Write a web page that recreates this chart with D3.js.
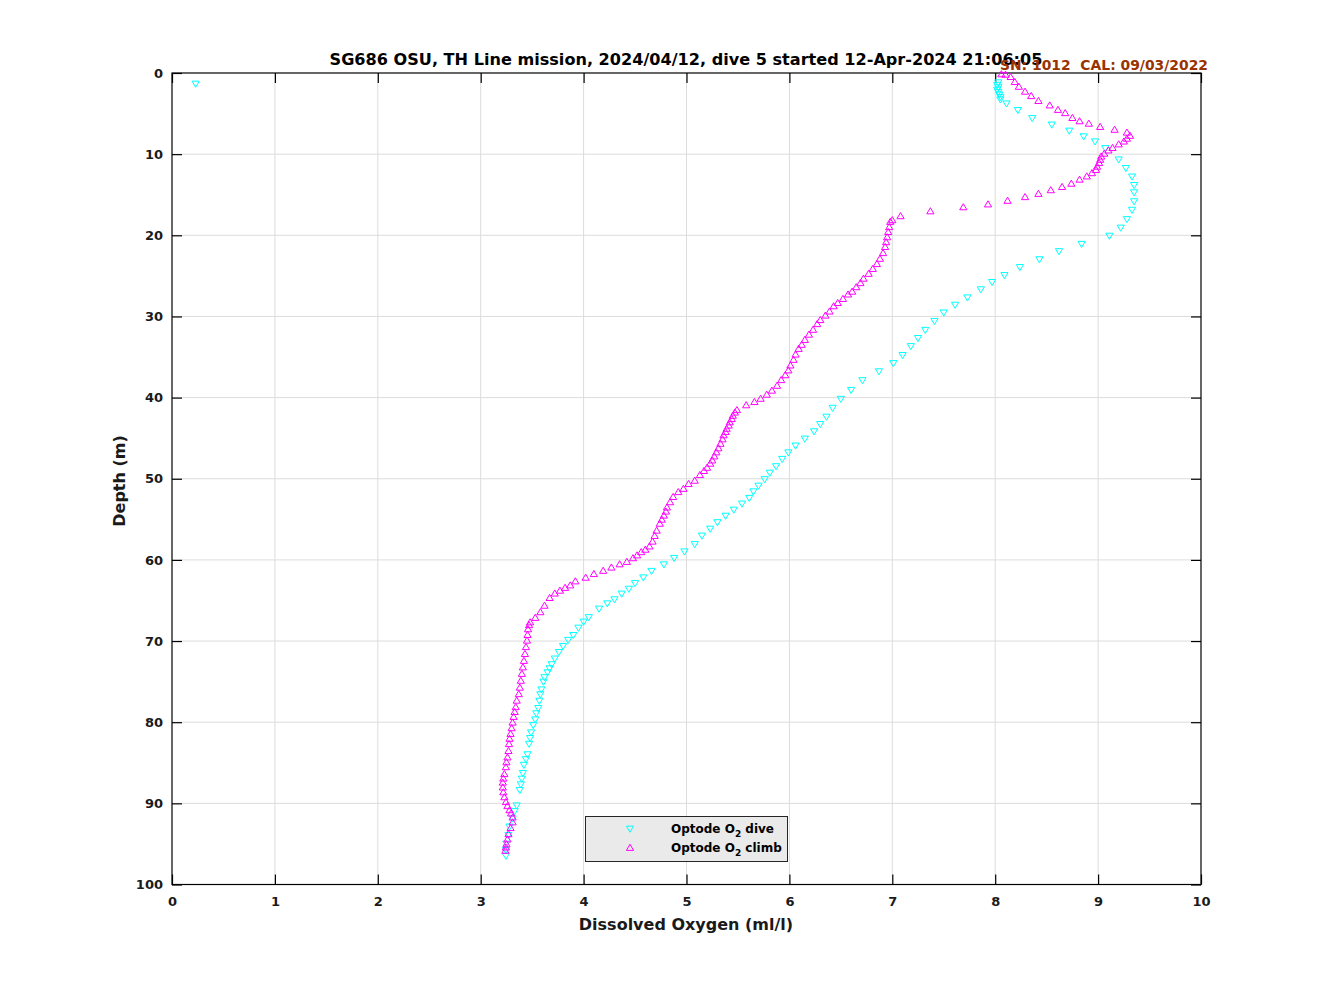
<!DOCTYPE html>
<html><head><meta charset="utf-8">
<script src="https://cdn.jsdelivr.net/npm/d3@7/dist/d3.min.js"></script>
<style>body{margin:0;background:#fff;} text{font-family:"DejaVu Sans",sans-serif;font-weight:bold;}</style>
</head><body>
<svg id="chart" width="1328" height="996"></svg>
<script>
const titleText = "SG686 OSU, TH Line mission, 2024/04/12, dive 5 started 12-Apr-2024 21:06:05";
const calText = "SN: 1012  CAL: 09/03/2022";
const xLabel = "Dissolved Oxygen (ml/l)";
const yLabel = "Depth (m)";
const xTicks = [0,1,2,3,4,5,6,7,8,9,10];
const yTicks = [0,10,20,30,40,50,60,70,80,90,100];

const diveO2 = [0.23,8.03,8.02,8.03,8.02,8.03,8.04,8.05,8.05,8.11,8.22,8.36,8.55,8.72,8.86,8.97,9.07,9.20,9.27,9.33,9.35,9.35,9.35,9.33,9.28,9.22,9.11,8.84,8.62,8.43,8.24,8.09,7.97,7.86,7.73,7.61,7.50,7.41,7.32,7.25,7.18,7.10,7.01,6.87,6.71,6.60,6.50,6.42,6.36,6.30,6.24,6.15,6.06,5.99,5.93,5.87,5.81,5.76,5.70,5.65,5.61,5.54,5.46,5.38,5.30,5.23,5.15,5.08,4.98,4.88,4.78,4.66,4.58,4.50,4.44,4.37,4.30,4.23,4.15,4.05,4.00,3.95,3.90,3.85,3.80,3.76,3.72,3.69,3.67,3.65,3.62,3.61,3.59,3.58,3.57,3.56,3.54,3.53,3.51,3.49,3.48,3.47,3.455,3.44,3.42,3.41,3.40,3.39,3.38,3.35,3.33,3.31,3.28,3.27,3.25,3.245,3.245];
const diveDepth = [1.36,1.2,1.5,1.8,2.1,2.4,2.7,3.0,3.3,3.8,4.6,5.6,6.4,7.15,7.85,8.47,9.3,10.7,11.75,12.8,13.85,14.75,15.85,16.9,18.05,19.1,20.1,21.1,22.0,23.0,23.96,24.95,25.8,26.7,27.7,28.6,29.55,30.6,31.7,32.7,33.7,34.8,35.8,36.8,37.9,39.1,40.2,41.3,42.4,43.3,44.2,45.1,45.95,46.8,47.6,48.5,49.3,50.1,50.9,51.6,52.4,53.1,53.85,54.6,55.4,56.2,57.05,58.1,59.0,59.8,60.6,61.4,62.2,62.9,63.6,64.2,64.9,65.4,66.05,67.1,67.65,68.4,69.3,69.9,70.65,71.4,72.2,72.9,73.4,73.9,74.5,75.05,76.0,76.6,77.4,78.3,78.95,79.7,80.4,81.3,82.0,82.7,84.0,84.6,85.3,86.3,87.0,87.7,88.4,90.3,91.0,91.9,92.9,93.95,95.0,95.8,96.5];

const climbO2 = [3.24,3.245,3.25,3.26,3.27,3.29,3.31,3.31,3.295,3.28,3.26,3.245,3.23,3.22,3.215,3.215,3.22,3.23,3.245,3.25,3.26,3.27,3.275,3.28,3.29,3.30,3.31,3.32,3.33,3.34,3.35,3.37,3.38,3.39,3.40,3.41,3.42,3.43,3.44,3.45,3.455,3.46,3.47,3.48,3.53,3.58,3.62,3.67,3.72,3.77,3.82,3.87,3.92,4.02,4.10,4.19,4.27,4.35,4.42,4.48,4.52,4.56,4.60,4.64,4.67,4.69,4.71,4.74,4.76,4.78,4.80,4.81,4.84,4.87,4.92,4.97,5.02,5.08,5.13,5.17,5.20,5.23,5.25,5.27,5.29,5.31,5.33,5.35,5.36,5.38,5.39,5.41,5.42,5.44,5.45,5.47,5.49,5.58,5.66,5.72,5.78,5.83,5.88,5.92,5.96,5.99,6.01,6.04,6.06,6.09,6.12,6.15,6.19,6.23,6.27,6.30,6.35,6.39,6.43,6.47,6.52,6.57,6.61,6.65,6.69,6.72,6.77,6.81,6.85,6.88,6.91,6.93,6.94,6.95,6.96,6.97,6.98,7.00,7.08,7.37,7.69,7.93,8.12,8.29,8.42,8.54,8.65,8.74,8.82,8.89,8.94,8.98,8.99,9.01,9.02,9.03,9.06,9.10,9.14,9.20,9.25,9.28,9.31,9.28,9.16,9.02,8.91,8.82,8.75,8.68,8.61,8.53,8.42,8.35,8.29,8.23,8.19,8.15,8.10,8.06];
const climbDepth = [95.8,95.4,95.0,94.4,93.75,93.0,92.3,91.7,91.2,90.8,90.3,89.8,89.2,88.6,88.0,87.4,86.9,86.35,85.5,84.9,84.3,83.5,82.65,82.0,81.4,80.7,80.0,79.3,78.7,78.1,77.3,76.5,75.7,74.85,74.0,73.2,72.4,71.55,70.7,69.9,69.2,68.5,68.0,67.65,67.1,66.4,65.6,64.65,64.1,63.75,63.4,63.1,62.6,62.15,61.7,61.3,60.9,60.5,60.2,59.75,59.4,59.0,58.7,58.3,57.7,57.0,56.35,55.5,55.0,54.5,54.0,53.5,52.85,52.2,51.6,51.2,50.6,50.2,49.5,49.0,48.6,48.1,47.7,47.2,46.7,46.2,45.65,45.1,44.6,44.2,43.8,43.4,43.0,42.6,42.2,41.8,41.5,40.9,40.5,40.1,39.6,39.1,38.5,37.8,37.2,36.6,36.0,35.3,34.65,33.95,33.45,32.85,32.2,31.6,30.9,30.4,29.85,29.35,28.7,28.3,27.8,27.25,26.9,26.35,25.85,25.3,24.7,24.1,23.5,22.85,22.15,21.4,20.8,20.2,19.55,18.95,18.3,18.1,17.6,17.0,16.5,16.15,15.7,15.25,14.85,14.4,14.0,13.6,13.1,12.7,12.3,11.9,11.5,11.05,10.65,10.25,9.9,9.5,9.2,8.75,8.4,8.05,7.7,7.3,6.95,6.6,6.2,5.9,5.5,4.9,4.5,3.95,3.4,2.8,2.26,1.65,1.07,0.45,0.16,0.12];

const seriesNames = ["dive","climb"];
const seriesColors = ["#00ffff","#ff00ff"];

const svg = d3.select("#chart");
const L = 172, R = 1201, T = 73, B = 884.5;
const x = d3.scaleLinear().domain([0,10]).range([L,R]);
const y = d3.scaleLinear().domain([0,100]).range([T,B]);

// grid
const g = svg.append("g");
g.selectAll(".gx").data(xTicks.slice(1,-1)).enter().append("line")
  .attr("x1",d=>x(d)).attr("x2",d=>x(d)).attr("y1",T).attr("y2",B)
  .attr("stroke","#dcdcdc").attr("stroke-width",1);
g.selectAll(".gy").data(yTicks.slice(1,-1)).enter().append("line")
  .attr("y1",d=>y(d)).attr("y2",d=>y(d)).attr("x1",L).attr("x2",R)
  .attr("stroke","#dcdcdc").attr("stroke-width",1);

// axes with inward ticks
const axB = d3.axisBottom(x).tickValues(xTicks).tickSize(-10).tickPadding(12).tickFormat(d3.format("d"));
const axT = d3.axisTop(x).tickValues(xTicks).tickSize(-10).tickFormat("");
const axL = d3.axisLeft(y).tickValues(yTicks).tickSize(-10).tickPadding(9).tickFormat(d3.format("d"));
const axR = d3.axisRight(y).tickValues(yTicks).tickSize(-10).tickFormat("");
function styleAx(sel){
  sel.select(".domain").attr("stroke","#000").attr("stroke-width",1.2);
  sel.selectAll(".tick line").attr("stroke","#000").attr("stroke-width",1.2);
  sel.selectAll(".tick text").attr("font-size",13).attr("font-weight","bold").attr("fill","#1a1a1a")
    .attr("font-family","DejaVu Sans");
}
styleAx(svg.append("g").attr("transform",`translate(0,${B})`).call(axB));
styleAx(svg.append("g").attr("transform",`translate(0,${T})`).call(axT));
styleAx(svg.append("g").attr("transform",`translate(${L},0)`).call(axL));
styleAx(svg.append("g").attr("transform",`translate(${R},0)`).call(axR));
svg.selectAll(".domain").attr("d", null);
svg.append("rect").attr("x",L).attr("y",T).attr("width",R-L).attr("height",B-T)
  .attr("fill","none").attr("stroke","#000").attr("stroke-width",1.2);

// markers
const tri = 3.6;
function downTri(cx,cy){return `M${cx-tri},${cy-tri*0.8}L${cx+tri},${cy-tri*0.8}L${cx},${cy+tri*0.9}Z`;}
function upTri(cx,cy){return `M${cx-tri},${cy+tri*0.8}L${cx+tri},${cy+tri*0.8}L${cx},${cy-tri*0.9}Z`;}

const dive = diveO2.map((v,i)=>({v, d:diveDepth[i]}));
const climb = climbO2.map((v,i)=>({v, d:climbDepth[i]}));

svg.append("g").selectAll("path").data(dive).enter().append("path")
  .attr("d",p=>downTri(x(p.v),y(p.d))).attr("fill","none")
  .attr("stroke",seriesColors[0]).attr("stroke-width",1);
svg.append("g").selectAll("path").data(climb).enter().append("path")
  .attr("d",p=>upTri(x(p.v),y(p.d))).attr("fill","none")
  .attr("stroke",seriesColors[1]).attr("stroke-width",1);

// title
svg.append("text").attr("x",686).attr("y",65).attr("text-anchor","middle")
  .attr("font-size",16.1).attr("fill","#000").text(titleText);
svg.append("text").attr("x",1208).attr("y",70).attr("text-anchor","end")
  .attr("font-size",13.9).attr("fill","#993300").attr("xml:space","preserve").text(calText);

// axis labels
svg.append("text").attr("x",686).attr("y",930).attr("text-anchor","middle")
  .attr("font-size",16).attr("fill","#1a1a1a").text(xLabel);
svg.append("text").attr("transform","translate(125,481) rotate(-90)").attr("text-anchor","middle")
  .attr("font-size",16).attr("fill","#1a1a1a").text(yLabel);

// legend
const lg = svg.append("g");
lg.append("rect").attr("x",585.5).attr("y",816.5).attr("width",202).attr("height",45)
  .attr("fill","#e6e6e6").attr("fill-opacity",0.85).attr("stroke","#262626").attr("stroke-width",1);
const lgText = ["Optode O|2| dive","Optode O|2| climb"];
[0,1].forEach(i=>{
  const cy = 829 + i*18.5;
  lg.append("path").attr("d", i===0 ? downTri(630,cy) : upTri(630,cy))
    .attr("fill","none").attr("stroke",seriesColors[i]).attr("stroke-width",1);
  const parts = lgText[i].split("|");
  const t = lg.append("text").attr("x",671).attr("y",cy+4).attr("font-size",12).attr("fill","#000");
  t.append("tspan").text(parts[0]);
  t.append("tspan").attr("dy",4).attr("font-size",9).text(parts[1]);
  t.append("tspan").attr("dy",-4).text(parts[2]);
});
</script>
</body></html>
